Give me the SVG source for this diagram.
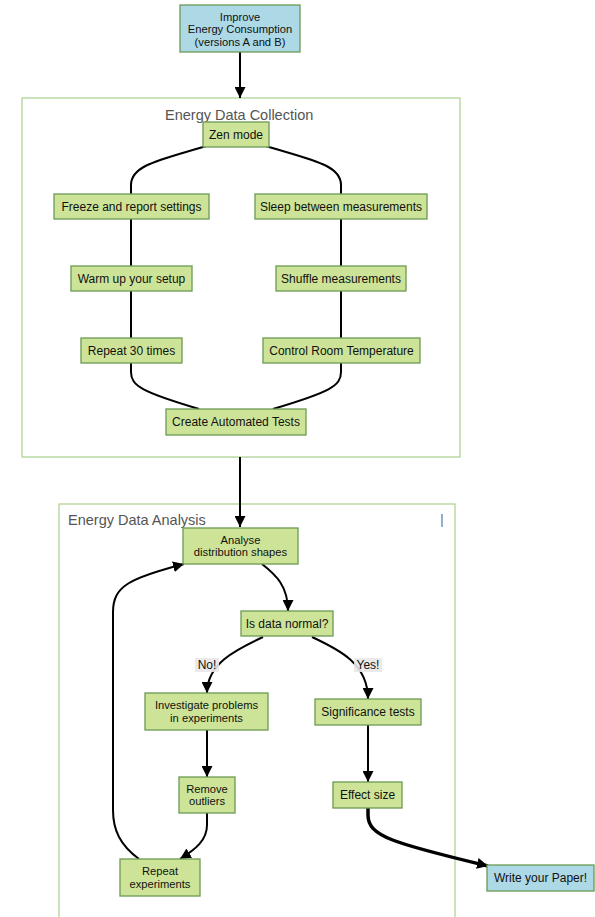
<svg xmlns="http://www.w3.org/2000/svg" width="595" height="917" viewBox="0 0 595 917">
<style>
.cl{fill:#ffffff;stroke:#a9d18e;stroke-width:1.2}
.ct{font-family:"Liberation Sans",Arial,sans-serif;font-size:14.5px;fill:#555}
.n rect{fill:#cde498;stroke:#6b9a52;stroke-width:1.3}
.b rect{fill:#add8e6;stroke:#6b9a52;stroke-width:1.3}
text{font-family:"Liberation Sans",Arial,sans-serif;font-size:12px;fill:#111;text-anchor:middle}
.m text{font-size:11.2px}
.ct{text-anchor:start}
.e{fill:none;stroke:#000;stroke-width:2}
.thick{stroke-width:3.5}
.lb{fill:#e8e8e8;opacity:0.9}
</style>
<defs>
<marker id="ah" viewBox="0 0 10 10" refX="10" refY="5" markerWidth="11" markerHeight="11" markerUnits="userSpaceOnUse" orient="auto">
<path d="M0,0 L10,5 L0,10 z" fill="#000"/>
</marker>
</defs>
<g id="cluster-collection">
<rect class="cl" x="22" y="98" width="438" height="359"/>
<text class="ct" x="165" y="120">Energy Data Collection</text>
</g>
<g id="cluster-analysis">
<rect class="cl" x="59" y="504" width="396" height="430"/>
<text class="ct" x="68" y="525">Energy Data Analysis</text>
<line x1="442" y1="514" x2="442" y2="527" stroke="#4a7ab0" stroke-width="1.2"/>
</g>
<g id="connectors">
<path class="e" d="M240,52 L240,98" marker-end="url(#ah)"/>
<path class="e" d="M206,146 C160,160 131,165 131,185 L131,194"/>
<path class="e" d="M266,146 C312,160 341,165 341,185 L341,194"/>
<path class="e" d="M131,219 L131,266"/>
<path class="e" d="M131,291 L131,338"/>
<path class="e" d="M341,219 L341,266"/>
<path class="e" d="M341,291 L341,338"/>
<path class="e" d="M131,363 L131,372 C131,386 142,392 199,409"/>
<path class="e" d="M341,363 L341,372 C341,386 330,392 273,409"/>
<path class="e" d="M240,457 L240,527" marker-end="url(#ah)"/>
<path class="e" d="M262,564 C276,575 288,586 288,611" marker-end="url(#ah)"/>
<path class="e" d="M263,637 C235,650 207,664 207,693" marker-end="url(#ah)"/>
<path class="e" d="M312,637 C340,650 368,664 368,699" marker-end="url(#ah)"/>
<path class="e" d="M207,730 L207,777" marker-end="url(#ah)"/>
<path class="e" d="M368,725 L368,782" marker-end="url(#ah)"/>
<path class="e" d="M207,813 L207,825 C207,840 196,849 180,859" marker-end="url(#ah)"/>
<path class="e" d="M139,859 C120,845 113,830 113,810 L113,612 C113,586 130,578 184,564" marker-end="url(#ah)"/>
<path class="e thick" d="M368,808 L368,815 C368,836 392,843 488,866" marker-end="url(#ah)"/>
<g id="label-no"><rect class="lb" x="195" y="658" width="24" height="14"/><text x="207" y="669">No!</text></g>
<g id="label-yes"><rect class="lb" x="354" y="658" width="28" height="14"/><text x="368" y="669">Yes!</text></g>
</g>
<g id="n-improve" class="b m"><rect x="180" y="5" width="120" height="47"/><text x="240" y="20.5">Improve</text><text x="240" y="33">Energy Consumption</text><text x="240" y="45.5">(versions A and B)</text></g>
<g id="n-zen" class="n"><rect x="203" y="122" width="66" height="25"/><text x="236" y="138.5">Zen mode</text></g>
<g id="n-freeze" class="n"><rect x="54" y="194" width="155" height="25"/><text x="131.5" y="210.5">Freeze and report settings</text></g>
<g id="n-sleep" class="n"><rect x="255" y="194" width="172" height="25"/><text x="341" y="210.5">Sleep between measurements</text></g>
<g id="n-warm" class="n"><rect x="71" y="266" width="121" height="25"/><text x="131.5" y="282.5">Warm up your setup</text></g>
<g id="n-shuffle" class="n"><rect x="276" y="266" width="130" height="25"/><text x="341" y="282.5">Shuffle measurements</text></g>
<g id="n-repeat30" class="n"><rect x="81" y="338" width="101" height="25"/><text x="131.5" y="354.5">Repeat 30 times</text></g>
<g id="n-control" class="n"><rect x="263" y="338" width="157" height="25"/><text x="341.5" y="354.5">Control Room Temperature</text></g>
<g id="n-create" class="n"><rect x="166" y="409" width="140" height="26"/><text x="236" y="426">Create Automated Tests</text></g>
<g id="n-analyse" class="n m"><rect x="183" y="528" width="115" height="36"/><text x="240.5" y="543.5">Analyse</text><text x="240.5" y="556">distribution shapes</text></g>
<g id="n-normal" class="n"><rect x="241" y="611" width="92" height="25"/><text x="287" y="627.5">Is data normal?</text></g>
<g id="n-investigate" class="n m"><rect x="145" y="693" width="123" height="37"/><text x="206.5" y="709">Investigate problems</text><text x="206.5" y="721.5">in experiments</text></g>
<g id="n-significance" class="n"><rect x="315" y="699" width="106" height="26"/><text x="368" y="716">Significance tests</text></g>
<g id="n-remove" class="n m"><rect x="179" y="777" width="56" height="36"/><text x="207" y="792.5">Remove</text><text x="207" y="805">outliers</text></g>
<g id="n-effect" class="n"><rect x="333" y="782" width="69" height="26"/><text x="367.5" y="799">Effect size</text></g>
<g id="n-repeatexp" class="n m"><rect x="120" y="859" width="80" height="37"/><text x="160" y="875">Repeat</text><text x="160" y="887.5">experiments</text></g>
<g id="n-write" class="b"><rect x="487" y="865" width="107" height="26"/><text x="540.5" y="882">Write your Paper!</text></g>
</svg>
